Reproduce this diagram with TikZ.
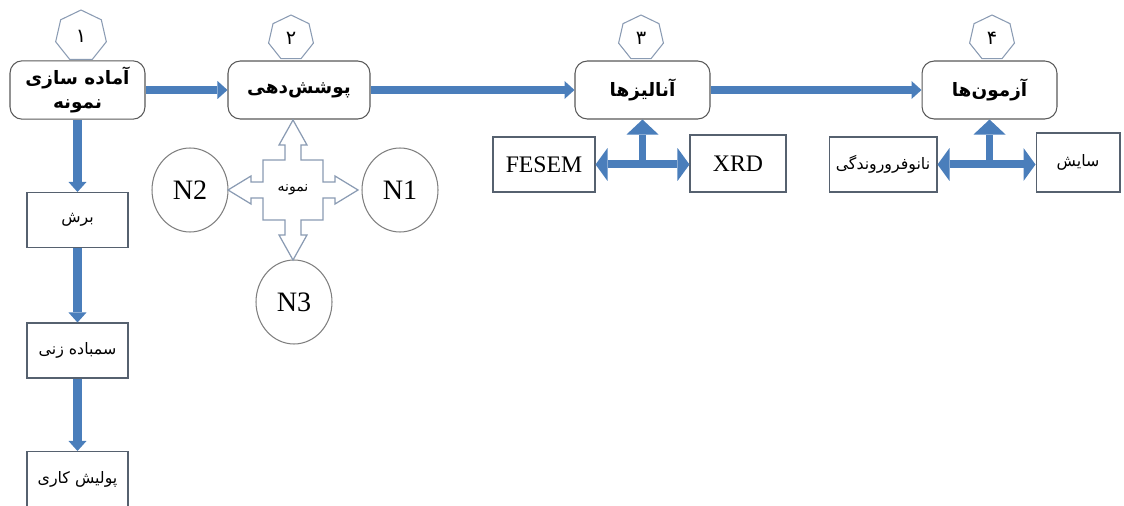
\documentclass[tikz,border=0pt]{standalone}
\usepackage{fontspec}
\setmainfont{Liberation Serif}
\newfontfamily\farsi[Script=Arabic]{DejaVu Sans}
\TeXXeTstate=1
\usetikzlibrary{arrows.meta,shapes.geometric}
\definecolor{pipeF}{HTML}{4A7EBB}
\definecolor{stageE}{HTML}{595959}
\definecolor{subE}{HTML}{56616F}
\definecolor{ringE}{HTML}{7F7F7F}
\definecolor{quadE}{HTML}{8A9BB3}
\newcommand{\fatxt}[1]{{\farsi\beginR #1\endR}}

\begin{document}
\begin{tikzpicture}[
    x=0.02cm,y=-0.02cm,
    stage/.style={draw=stageE,fill=white,rounded corners=7pt,line width=0.6pt,
                  minimum width=2.7cm,minimum height=1.16cm,align=center,
                  font=\farsi\bfseries\fontsize{10.5}{14}\selectfont},
    sub/.style={draw=subE,fill=white,line width=0.6pt,minimum height=1.1cm,
                inner sep=2pt,font=\farsi\fontsize{9}{11}\selectfont},
    latin/.style={sub,font=\fontsize{13.5}{15}\selectfont},
    badge/.style={regular polygon,regular polygon sides=7,draw=quadE,fill=white,
                  line width=0.6pt,inner sep=0pt,font=\farsi\fontsize{11}{12}\selectfont},
    ring/.style={ellipse,draw=ringE,line width=0.6pt,minimum width=1.52cm,
                 minimum height=1.68cm,font=\fontsize{16}{18}\selectfont},
    quad/.style={draw=quadE,line width=0.7pt,fill=white},
    pipe/.style={line width=0.17cm,draw=pipeF,
                 -{Triangle[length=0.2cm,width=0.36cm,line width=0pt]}},
    fork/.style={line width=0.16cm,draw=pipeF,
                 {Triangle[length=0.24cm,width=0.66cm,line width=0pt]}-{Triangle[length=0.24cm,width=0.66cm,line width=0pt]}},
    rise/.style={line width=0.14cm,draw=pipeF,
                 -{Triangle[length=0.3cm,width=0.64cm,line width=0pt]}},
]
\useasboundingbox (0,0) rectangle (1124,506);

% =====================================================================
%  step numbers (behind the stage boxes)
% =====================================================================
\node[badge,minimum size=1.04cm] (n1) at (81,36) {۱};
\foreach \x/\n/\d in {291/n2/۲,641/n3/۳,992/n4/۴}
   \node[badge,minimum size=0.92cm] (\n) at (\x,38) {\d};

% =====================================================================
%  main stages
% =====================================================================
\node[stage] (prep) at (77.5,90) {\fatxt{آماده سازی}\\ \fatxt{نمونه}};
\node[stage,minimum width=2.84cm] (coat) at (299,90) {\fatxt{پوشش‌دهی}};
\node[stage] (anal) at (642.5,90) {\fatxt{آنالیزها}};
\node[stage] (test) at (989.5,90) {\fatxt{آزمون‌ها}};

\draw[pipe] (prep.east) -- (coat.west);
\draw[pipe] (coat.east) -- (anal.west);
\draw[pipe] (anal.east) -- (test.west);

% =====================================================================
%  sample preparation steps
% =====================================================================
\node[sub,minimum width=2.02cm] (cut)    at (77.5,220)   {\fatxt{برش}};
\node[sub,minimum width=2.02cm] (grind)  at (77.5,350.5) {\fatxt{سمباده زنی}};
\node[sub,minimum width=2.02cm] (polish) at (77.5,479)   {\fatxt{پولیش کاری}};

\draw[pipe] (prep.south) -- (cut.north);
\draw[pipe] (cut.south) -- (grind.north);
\draw[pipe] (grind.south) -- (polish.north);

% =====================================================================
%  coated samples around the quad arrow
% =====================================================================
\node[ring] (s2) at (190,190) {N2};
\node[ring] (s1) at (400,190) {N1};
\node[ring] (s3) at (294,302) {N3};

\coordinate (smp) at (293,190);
\draw[quad,shift={(smp)}]
   (0,-70) -- (14,-45) -- (8,-45) -- (8,-30) -- (30,-30) -- (30,-8)
   -- (42,-8) -- (42,-14) -- (65,0) -- (42,14) -- (42,8) -- (30,8)
   -- (30,30) -- (8,30) -- (8,45) -- (14,45) -- (0,70) -- (-14,45)
   -- (-8,45) -- (-8,30) -- (-30,30) -- (-30,8) -- (-42,8) -- (-42,14)
   -- (-65,0) -- (-42,-14) -- (-42,-8) -- (-30,-8) -- (-30,-30)
   -- (-8,-30) -- (-8,-45) -- (-14,-45) -- cycle;
\node[font=\farsi\fontsize{8}{10}\selectfont] (smpt) at (smp) {\fatxt{نمونه}};

% =====================================================================
%  analyses and tests
% =====================================================================
\node[latin,minimum width=2.04cm] (fesem) at (544,164.5) {FESEM};
\node[latin,minimum width=1.92cm,minimum height=1.14cm] (xrd) at (738,163.5) {XRD};
\node[sub,minimum width=2.16cm] (nano) at (883,164.5) {\fatxt{نانوفروروندگی}};
\node[sub,minimum width=1.68cm,minimum height=1.18cm] (wear) at (1078,162.5) {\fatxt{سایش}};

\coordinate (jA) at (anal.south |- fesem.east);
\coordinate (jT) at (test.south |- nano.east);
\draw[fork] (fesem.east) -- (fesem.east -| xrd.west);
\draw[rise] (jA) -- (anal.south);
\draw[fork] (nano.east) -- (nano.east -| wear.west);
\draw[rise] (jT) -- (test.south);

\end{tikzpicture}
\end{document}
